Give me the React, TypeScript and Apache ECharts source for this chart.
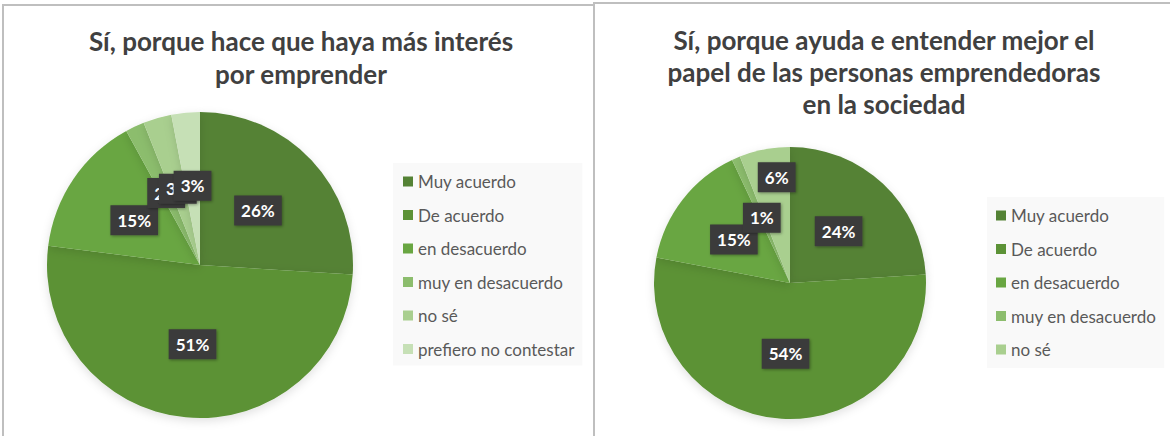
import React, { useEffect, useRef } from "react";
import * as echarts from "echarts";

const categories = [
  "Muy acuerdo",
  "De acuerdo",
  "en desacuerdo",
  "muy en desacuerdo",
  "no sé",
  "prefiero no contestar",
];
const leftValues = [26, 51, 15, 2, 3, 3];
const rightValues = [24, 54, 15, 1, 6];
const rightCategories = categories.slice(0, 5);
const colors = ["#548235", "#5C9236", "#69A642", "#8CBD6D", "#A9CF8F", "#C6E0B6"];
const leftTitle = "Sí, porque hace que haya más interés\npor emprender";
const rightTitle = "Sí, porque ayuda e entender mejor el\npapel de las personas emprendedoras\nen la sociedad";

const FONT = "Lato, 'Open Sans', sans-serif";

export default function App() {
  const ref = useRef<HTMLDivElement>(null);
  useEffect(() => {
    if (!ref.current) return;
    const chart = echarts.init(ref.current, undefined, { renderer: "svg" });

    const labelCfg = {
      show: true,
      position: "inside",
      formatter: "{c}%",
      color: "#ffffff",
      fontWeight: "bold",
      fontSize: 17,
      fontFamily: FONT,
      backgroundColor: "#3b3b3b",
      padding: [7, 7, 6, 7],
      shadowColor: "rgba(0,0,0,0.35)",
      shadowBlur: 3,
      shadowOffsetX: 1,
      shadowOffsetY: 1,
    };

    const legendCfg = {
      orient: "vertical",
      itemWidth: 10,
      itemHeight: 10,
      itemGap: 16.5,
      icon: "rect",
      backgroundColor: "rgba(0,0,0,0.022)",
      textStyle: { fontSize: 17, color: "#595959", fontFamily: FONT, padding: [0, 0, 0, 0] },
    };

    chart.setOption({
      animation: false,
      backgroundColor: "#ffffff",
      graphic: [
        {
          type: "rect",
          shape: { x: 3, y: 5, width: 591, height: 460 },
          style: { fill: "none", stroke: "#bfbfbf", lineWidth: 2 },
          z: 0,
        },
        {
          type: "rect",
          shape: { x: 594, y: 3, width: 620, height: 460 },
          style: { fill: "none", stroke: "#bfbfbf", lineWidth: 2 },
          z: 0,
        },
        {
          type: "text",
          x: 301,
          y: 24,
          style: {
            text: leftTitle,
            align: "center",
            verticalAlign: "top",
            font: `bold 26px ${FONT}`,
            lineHeight: 33,
            fill: "#404040",
          },
        },
        {
          type: "text",
          x: 884,
          y: 24,
          style: {
            text: rightTitle,
            align: "center",
            verticalAlign: "top",
            font: `bold 26px ${FONT}`,
            lineHeight: 32,
            fill: "#404040",
          },
        },
      ],
      legend: [
        {
          ...legendCfg,
          left: 393,
          top: 163,
          padding: [10, 8, 8, 10],
          data: categories,
        },
        {
          ...legendCfg,
          left: 987,
          top: 197,
          padding: [10, 8, 10, 9],
          data: rightCategories,
        },
      ],
      series: [
        {
          type: "pie",
          center: [200, 265],
          radius: 153,
          startAngle: 90,
          clockwise: true,
          label: labelCfg,
          labelLine: { show: false },
          labelLayout: { hideOverlap: false },
          itemStyle: { shadowBlur: 10, shadowColor: "rgba(0,0,0,0.12)", shadowOffsetY: 3 },
          emphasis: { disabled: true },
          data: categories.map((n, i) => ({
            name: n,
            value: leftValues[i],
            itemStyle: { color: colors[i] },
          })),
        },
        {
          type: "pie",
          center: [790, 283],
          radius: 136,
          startAngle: 90,
          clockwise: true,
          label: labelCfg,
          labelLine: { show: false },
          labelLayout: (p: any) =>
            p.dataIndex === 4 ? { dy: -36, hideOverlap: false } : { hideOverlap: false },
          itemStyle: { shadowBlur: 10, shadowColor: "rgba(0,0,0,0.12)", shadowOffsetY: 3 },
          emphasis: { disabled: true },
          data: rightCategories.map((n, i) => ({
            name: n,
            value: rightValues[i],
            itemStyle: { color: colors[i] },
          })),
        },
      ],
    });
    return () => chart.dispose();
  }, []);

  return (
    <div
      ref={ref}
      style={{ position: "fixed", left: 0, top: 0, width: 1170, height: 436 }}
    />
  );
}
